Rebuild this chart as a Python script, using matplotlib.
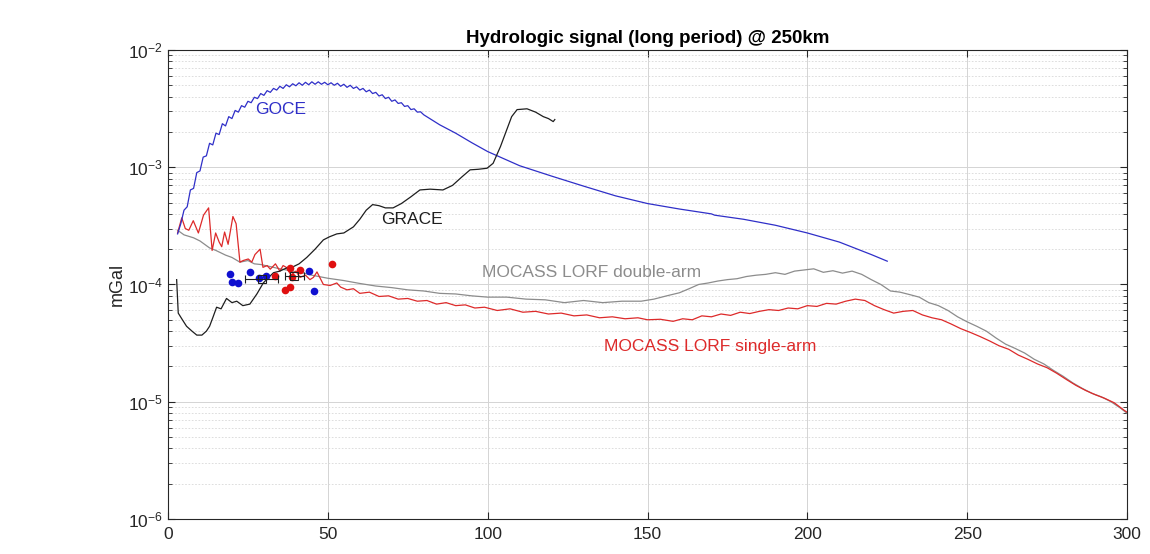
import numpy as np
import matplotlib
matplotlib.use('Agg')
import matplotlib.pyplot as plt
from matplotlib.ticker import LogLocator, NullLocator, MultipleLocator

plt.rcParams['font.family'] = ['Liberation Sans', 'DejaVu Sans']

# GOCE curve (degree, mGal)
goce_deg = [3, 4, 5, 6, 7, 8, 9, 10, 11, 12, 13, 14, 15, 16, 17, 18, 19, 20,
            21, 22, 23, 24, 25, 26, 27, 28, 29, 30, 31, 32, 33, 34, 35, 36, 37, 38,
            39, 40, 41, 42, 43, 44, 45, 46, 47, 48, 49, 50, 51, 52, 53, 54, 55, 56,
            57, 58, 59, 60, 61, 62, 63, 64, 65, 66, 67, 68, 69, 70, 71, 72, 73, 74,
            75, 76, 77, 78, 79, 80, 85, 90, 95, 100, 110, 120, 130, 140, 150, 160,
            170, 171, 180, 190, 200, 210, 220, 225]
goce_val = [2.7e-4, 3.3e-4, 4.3e-4, 4.6e-4, 6.4e-4, 6.6e-4, 9.0e-4, 9.3e-4, 1.22e-3, 1.25e-3,
            1.6e-3, 1.55e-3, 1.95e-3, 1.9e-3, 2.35e-3, 2.25e-3, 2.7e-3, 2.6e-3,
            3.05e-3, 2.95e-3, 3.35e-3, 3.25e-3, 3.65e-3, 3.55e-3, 3.95e-3, 3.85e-3,
            4.25e-3, 4.1e-3, 4.5e-3, 4.35e-3, 4.7e-3, 4.55e-3, 4.9e-3, 4.7e-3,
            5.05e-3, 4.85e-3, 5.15e-3, 4.95e-3, 5.25e-3, 5.0e-3, 5.3e-3, 5.05e-3,
            5.35e-3, 5.1e-3, 5.35e-3, 5.1e-3, 5.3e-3, 5.05e-3, 5.25e-3, 5.0e-3,
            5.2e-3, 4.9e-3, 5.1e-3, 4.8e-3, 5.0e-3, 4.7e-3, 4.85e-3, 4.55e-3,
            4.7e-3, 4.4e-3, 4.55e-3, 4.25e-3, 4.35e-3, 4.05e-3, 4.15e-3, 3.85e-3,
            3.95e-3, 3.65e-3, 3.75e-3, 3.5e-3, 3.55e-3, 3.3e-3, 3.35e-3, 3.1e-3,
            3.15e-3, 2.95e-3, 2.97e-3, 2.8e-3, 2.3e-3, 1.95e-3, 1.62e-3, 1.36e-3,
            1.03e-3, 8.4e-4, 6.9e-4, 5.7e-4, 4.9e-4, 4.4e-4, 4.0e-4, 3.9e-4,
            3.6e-4, 3.2e-4, 2.75e-4, 2.3e-4, 1.8e-4, 1.58e-4]

# GRACE curve
grace_deg = [2.7, 3.2, 4.5, 5.8, 7.5, 9, 10.6, 12, 13, 14, 15.2, 16.6, 18.3, 20, 21.5,
             23.4, 25.6, 27.8, 29.8, 31.5, 33, 35, 37, 39, 41, 43.4, 46, 48.6, 50.5,
             52.8, 55, 58, 60, 62, 64, 66, 68, 70.4, 73, 76, 78.8, 82, 86, 89, 92,
             94.5, 97, 99.8, 101.7, 104, 106, 107.5, 109.2, 112.3, 115, 117.4, 119,
             120.5, 121]
grace_val = [1.1e-4, 5.7e-5, 5.0e-5, 4.4e-5, 4.0e-5, 3.7e-5, 3.7e-5, 4.0e-5, 4.4e-5,
             5.2e-5, 6.4e-5, 6.2e-5, 7.6e-5, 7.0e-5, 7.2e-5, 6.6e-5, 6.8e-5, 8.3e-5,
             1.03e-4, 1.15e-4, 1.26e-4, 1.3e-4, 1.38e-4, 1.41e-4, 1.5e-4, 1.7e-4,
             2.0e-4, 2.4e-4, 2.55e-4, 2.7e-4, 2.75e-4, 3.1e-4, 3.6e-4, 4.3e-4, 4.8e-4,
             4.7e-4, 4.5e-4, 4.5e-4, 4.9e-4, 5.6e-4, 6.4e-4, 6.5e-4, 6.4e-4, 7.0e-4,
             8.3e-4, 9.5e-4, 9.6e-4, 9.8e-4, 1.08e-3, 1.5e-3, 2.1e-3, 2.7e-3, 3.1e-3,
             3.15e-3, 2.95e-3, 2.7e-3, 2.6e-3, 2.45e-3, 2.55e-3]

# MOCASS LORF single-arm
single_deg = [3, 4.3, 5.4, 6.5, 7.9, 9.5, 11.1, 12.7, 13.8, 14.9, 16, 16.8, 17.7, 18.8,
              20.3, 21.3, 22.5, 23.5, 25.1, 26.2, 27.2, 28.8, 29.7, 31, 32, 33.6, 35,
              36, 37, 38.5, 40, 41.3, 43, 44.4, 45.5, 46.6, 48.6, 50.7, 52.8, 54, 56,
              58, 60, 63, 66, 69, 72, 75, 78, 81, 84, 87, 90, 93, 96, 99, 103, 107,
              111, 115, 119, 123, 127, 131, 135, 139, 143, 147, 150, 154, 158, 161,
              164, 167, 170, 173, 176, 179, 182, 185, 188, 191, 194, 197, 200, 203,
              206, 209, 212, 215, 218, 221, 224, 227, 230, 233, 236, 239, 242, 245,
              248, 251, 254, 257, 260, 263, 266, 269, 272, 275, 278, 281, 284, 287,
              290, 293, 296, 299, 301]
single_val = [2.75e-4, 3.7e-4, 3.0e-4, 2.9e-4, 3.5e-4, 2.75e-4, 3.9e-4, 4.5e-4, 1.95e-4,
              2.75e-4, 2.3e-4, 2.1e-4, 2.8e-4, 2.2e-4, 3.8e-4, 3.3e-4, 1.55e-4, 1.6e-4,
              1.65e-4, 1.55e-4, 1.8e-4, 2.0e-4, 1.4e-4, 1.45e-4, 1.35e-4, 1.5e-4,
              1.3e-4, 1.45e-4, 1.4e-4, 1.2e-4, 1.3e-4, 1.15e-4, 1.2e-4, 1.1e-4,
              1.15e-4, 1.28e-4, 1.0e-4, 9.8e-5, 1.03e-4, 9.5e-5, 9.0e-5, 9.2e-5,
              8.4e-5, 8.6e-5, 7.9e-5, 8.0e-5, 7.5e-5, 7.6e-5, 7.2e-5, 7.3e-5, 6.8e-5,
              7.0e-5, 6.6e-5, 6.7e-5, 6.3e-5, 6.4e-5, 6.0e-5, 6.2e-5, 5.8e-5, 5.9e-5,
              5.6e-5, 5.7e-5, 5.4e-5, 5.5e-5, 5.2e-5, 5.3e-5, 5.1e-5, 5.2e-5, 5.0e-5,
              5.05e-5, 4.85e-5, 5.1e-5, 5.0e-5, 5.4e-5, 5.3e-5, 5.6e-5, 5.45e-5,
              5.8e-5, 5.65e-5, 5.9e-5, 6.1e-5, 6.0e-5, 6.3e-5, 6.2e-5, 6.6e-5, 6.5e-5,
              6.9e-5, 6.8e-5, 7.2e-5, 7.5e-5, 7.3e-5, 6.6e-5, 6.1e-5, 5.7e-5, 5.9e-5,
              6.0e-5, 5.5e-5, 5.2e-5, 5.0e-5, 4.6e-5, 4.2e-5, 3.9e-5, 3.6e-5, 3.3e-5,
              3.0e-5, 2.8e-5, 2.5e-5, 2.3e-5, 2.1e-5, 1.95e-5, 1.75e-5, 1.55e-5,
              1.38e-5, 1.25e-5, 1.15e-5, 1.07e-5, 9.8e-6, 8.5e-6, 7.8e-6]

# MOCASS LORF double-arm
double_deg = [3, 5, 8, 10, 13, 15, 18, 20, 22.5, 25, 27, 29, 32, 35, 39, 42, 45, 50, 55,
              60, 65, 70, 75, 80, 85, 90, 95, 100, 106, 112, 118, 124, 130, 136, 142,
              148, 152, 156, 160, 163, 166, 169, 172, 175, 178, 181, 184, 187, 190,
              193, 196, 199, 202, 205, 208, 211, 214, 217, 220, 223, 226, 229, 232,
              235, 238, 241, 244, 247, 250, 253, 256, 259, 262, 265, 268, 271, 274,
              277, 280, 283, 286, 289, 292, 295, 298, 301]
double_val = [2.9e-4, 2.65e-4, 2.5e-4, 2.35e-4, 2.05e-4, 1.95e-4, 1.78e-4, 1.7e-4,
              1.55e-4, 1.6e-4, 1.5e-4, 1.48e-4, 1.42e-4, 1.36e-4, 1.3e-4, 1.26e-4,
              1.2e-4, 1.13e-4, 1.08e-4, 1.02e-4, 9.7e-5, 9.4e-5, 9.0e-5, 8.8e-5,
              8.4e-5, 8.3e-5, 8.0e-5, 7.8e-5, 7.8e-5, 7.5e-5, 7.4e-5, 7.0e-5, 7.3e-5,
              7.0e-5, 7.2e-5, 7.2e-5, 7.5e-5, 8.0e-5, 8.5e-5, 9.2e-5, 1.0e-4, 1.03e-4,
              1.07e-4, 1.1e-4, 1.12e-4, 1.17e-4, 1.2e-4, 1.22e-4, 1.26e-4, 1.22e-4,
              1.3e-4, 1.33e-4, 1.36e-4, 1.27e-4, 1.31e-4, 1.25e-4, 1.3e-4, 1.22e-4,
              1.1e-4, 1.0e-4, 8.8e-5, 8.6e-5, 8.2e-5, 7.8e-5, 7.0e-5, 6.6e-5, 6.0e-5,
              5.3e-5, 4.8e-5, 4.4e-5, 4.0e-5, 3.5e-5, 3.1e-5, 2.85e-5, 2.6e-5,
              2.3e-5, 2.1e-5, 1.85e-5, 1.65e-5, 1.45e-5, 1.3e-5, 1.18e-5, 1.1e-5,
              1.0e-5, 8.8e-6, 7.6e-6]

# scattered estimates
blue_deg = [19.4, 19.9, 21.9, 25.6, 28.5, 30.6, 44.1, 45.6]
blue_val = [1.22e-4, 1.04e-4, 1.02e-4, 1.29e-4, 1.13e-4, 1.17e-4, 1.3e-4, 8.8e-5]
red_deg = [33.5, 36.6, 38.2, 38.2, 38.7, 41.3, 51.2]
red_val = [1.18e-4, 8.9e-5, 9.5e-5, 1.37e-4, 1.15e-4, 1.33e-4, 1.49e-4]
eb_deg = [29.3, 39.5]
eb_xerr = [5.2, 2.9]
eb_val = [1.12e-4, 1.17e-4]

fig = plt.figure(figsize=(11.5, 5.54), dpi=100)
ax = fig.add_axes([0.1461, 0.0632, 0.8339, 0.8466])

c_blue = '#2f2fc8'
c_red = '#dd2a2a'
c_grey = '#8c8c8c'
c_black = '#1e1e1e'

ax.plot(double_deg, double_val, color=c_grey, lw=0.9)
ax.plot(single_deg, single_val, color=c_red, lw=0.9)
ax.plot(goce_deg, goce_val, color=c_blue, lw=0.9)
ax.plot(grace_deg, grace_val, color=c_black, lw=0.9)
ax.plot(blue_deg, blue_val, 'o', color='#1010d0', ms=5.5, mec='none')
ax.plot(red_deg, red_val, 'o', color='#e01010', ms=5.5, mec='none')
ax.errorbar(eb_deg, eb_val, xerr=eb_xerr, fmt='s', color=c_black, mfc='none',
            ms=6, capsize=3, lw=0.8, mew=0.8)

ax.text(27.2, 3.1e-3, 'GOCE', color=c_blue, fontsize=12.5, va='center')
ax.text(66.6, 3.6e-4, 'GRACE', color=c_black, fontsize=12.5, va='center')
ax.text(98.2, 1.26e-4, 'MOCASS LORF double-arm', color=c_grey, fontsize=12.5, va='center')
ax.text(136.4, 2.95e-5, 'MOCASS LORF single-arm', color=c_red, fontsize=12.5, va='center')

ax.set_yscale('log')
ax.set_xlim(0, 300)
ax.set_ylim(1e-6, 1e-2)
ax.xaxis.set_major_locator(MultipleLocator(50))
ax.xaxis.set_minor_locator(NullLocator())
ax.yaxis.set_major_locator(LogLocator(base=10, numticks=10))
ax.yaxis.set_minor_locator(LogLocator(base=10, subs=np.arange(2, 10), numticks=50))

ax.grid(True, which='major', color='#d4d4d4', lw=0.7, ls='-')
ax.grid(True, which='minor', axis='y', color='#d8d8d8', lw=0.6, ls=(0, (2, 2)))
ax.set_axisbelow(True)

for s in ax.spines.values():
    s.set_color('#262626')
    s.set_linewidth(0.8)
ax.tick_params(which='both', direction='in', top=True, right=True, colors='#262626',
               labelsize=12.5)
ax.tick_params(which='major', length=5)
ax.tick_params(which='minor', length=3)
ax.tick_params(axis='x', pad=6)

ax.set_ylabel('mGal', fontsize=13, color='#262626', labelpad=2)
ax.set_title('Hydrologic signal (long period) @ 250km', fontsize=13.5,
             fontweight='bold', pad=5)

fig.savefig('out.png', dpi=100)
